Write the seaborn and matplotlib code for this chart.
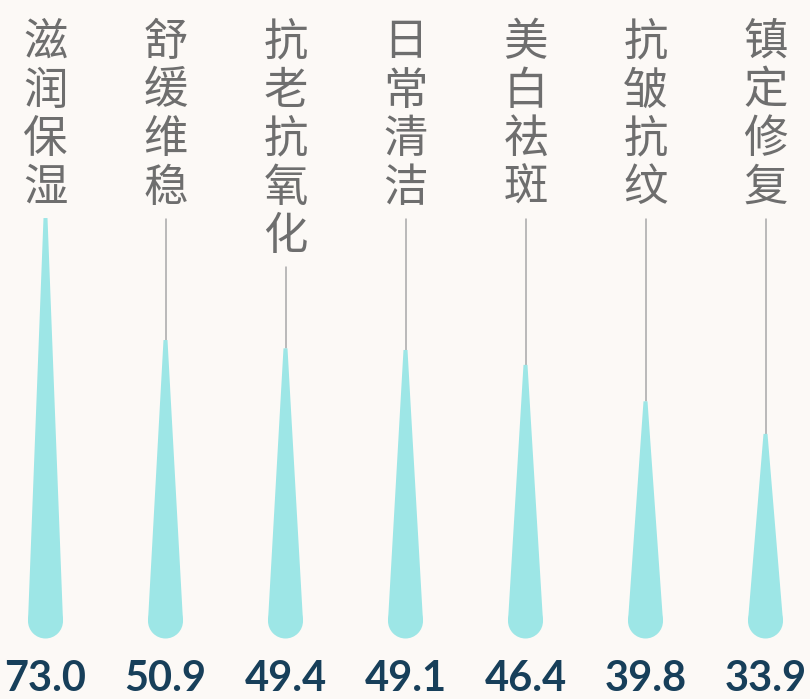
import matplotlib
matplotlib.use("Agg")
import matplotlib.pyplot as plt
import seaborn as sns
import pandas as pd

# Skin-care benefit categories and their scores
categories = ["滋润保湿", "舒缓维稳", "抗老抗氧化", "日常清洁", "美白祛斑", "抗皱抗纹", "镇定修复"]
values = [73.0, 50.9, 49.4, 49.1, 46.4, 39.8, 33.9]
value_labels = [f"{v:.1f}" for v in values]

BG = "#fcf9f6"
DROP = "#9de6e6"
LABEL = "#6e6e6e"
NUM = "#173f5a"
LEADER = "#a8a8a8"

sns.set_theme(style="white")
plt.rcParams["font.family"] = ["Noto Sans CJK SC", "DejaVu Sans"]

W, H = 810, 699
fig = plt.figure(figsize=(W / 100, H / 100), dpi=100, facecolor=BG)
ax = fig.add_axes([0, 0, 1, 1])
ax.set_facecolor(BG)

# pixel geometry of the scale
x0, step = 45.5, 120.0        # centre of first column, column spacing (px)
base_px, ppu = 78.0, 5.52     # baseline height from bottom (px), px per unit
ax.set_xlim(-x0 / step, (W - x0) / step)
ax.set_ylim(-base_px / ppu, (H - base_px) / ppu)
ax.axis("off")

half_w = 17.5 / step          # half width of the drop at its base
tip_w = 2.0 / step            # half width at the tip

df = pd.DataFrame({"cat": categories, "x": range(len(categories)), "value": values})

for i, v in zip(df["x"], df["value"]):
    ax.fill([i - half_w, i - tip_w, i + tip_w, i + half_w],
            [0, v, v, 0], color=DROP, lw=0, zorder=2)

# round bulb at the base of every drop
df["base"] = 0.0
sns.scatterplot(data=df, x="x", y="base", s=(35 * 0.72) ** 2, color=DROP,
                edgecolor="none", linewidth=0, ax=ax, zorder=3, legend=False)

char_px = 48.5
top_px = 19.0
for i, (cat, v, lab) in enumerate(zip(categories, values, value_labels)):
    n = len(cat)
    ytop = (H - top_px - base_px) / ppu
    ax.text(i, ytop, "\n".join(cat), ha="center", va="top", fontsize=32,
            color=LABEL, fontweight="light", linespacing=1.07, zorder=4)
    text_bottom_px = top_px + n * char_px
    line_top = (H - text_bottom_px - 6 - base_px) / ppu
    if line_top > v:
        ax.plot([i, i], [v, line_top], color=LEADER, lw=1.1, zorder=1)
    ax.text(i, (1 - base_px) / ppu, lab, ha="center", va="bottom",
            fontsize=30, color=NUM, fontweight="bold",
            family=["Lato", "DejaVu Sans"], zorder=4)

fig.savefig("out.png", dpi=100, facecolor=BG)
